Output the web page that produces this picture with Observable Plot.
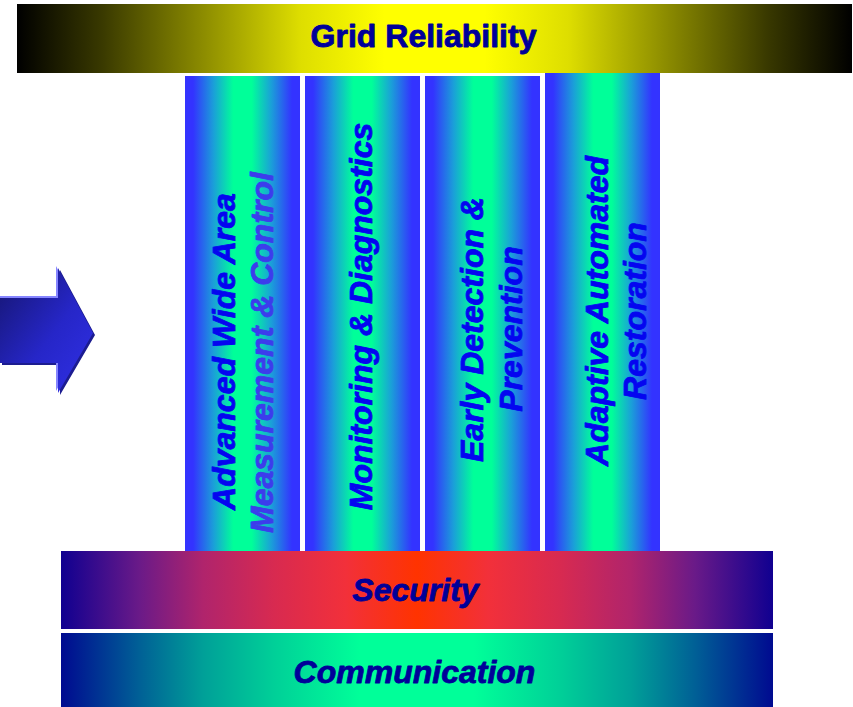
<!DOCTYPE html>
<html>
<head>
<meta charset="utf-8">
<script src="https://cdn.jsdelivr.net/npm/d3@7"></script>
<script src="https://cdn.jsdelivr.net/npm/@observablehq/plot@0.6"></script>
<style>
  html, body { margin: 0; padding: 0; background: #ffffff; }
  #chart { width: 853px; height: 707px; overflow: hidden; }
</style>
</head>
<body>
<div id="chart"></div>
<script>
// ---- Horizontal layers (top and foundation bars) ----
const layerNames = ["Grid Reliability", "Security", "Communication"];
const layerX1 = [17, 61, 61];
const layerX2 = [852, 773, 773];
const layerY1 = [4, 551, 633];
const layerY2 = [73, 629, 707];
const layerFill = ["url(#gReliab)", "url(#gSec)", "url(#gComm)"];
const layerTextX = [423, 415, 414];
const layerTextY = [36.5, 590, 672.5];

// ---- Pillars ----
const pillarNames = [
  "Advanced Wide Area Measurement & Control",
  "Monitoring & Diagnostics",
  "Early Detection & Prevention",
  "Adaptive Automated Restoration"
];
const pillarX1 = [185, 305, 425, 545];
const pillarX2 = [300, 420, 540, 660];
const pillarY1 = [76, 76, 76, 73];
const pillarY2 = [551, 551, 551, 551];

// ---- Pillar label lines (rotated text) ----
const lineTexts = [
  "Advanced Wide Area", "Measurement & Control",
  "Monitoring & Diagnostics",
  "Early Detection &", "Prevention",
  "Adaptive Automated", "Restoration"
];
const lineX = [224, 262.5, 361, 472.5, 511, 597.5, 635.5];
const lineY = [351, 352, 316, 329, 328.5, 310.5, 310.5];
const lineColor = ["#0505f0", "#3c3cec", "#0505f0", "#0505f0", "#0505f0", "#0505f0", "#0505f0"];

// ---- Arrow outline (x, top, bottom) ----
const arrowX = [0, 58, 58, 93];
const arrowTop = [298, 298, 268, 333];
const arrowBottom = [363, 363, 393, 333];

const layers = layerNames.map((name, i) => ({
  name, x1: layerX1[i], x2: layerX2[i], y1: layerY1[i], y2: layerY2[i],
  fill: layerFill[i], tx: layerTextX[i], ty: layerTextY[i]
}));
const pillars = pillarNames.map((name, i) => ({
  name, x1: pillarX1[i], x2: pillarX2[i], y1: pillarY1[i], y2: pillarY2[i]
}));
const lines = lineTexts.map((t, i) => ({ t, x: lineX[i], y: lineY[i], c: lineColor[i] }));
const arrow = arrowX.map((x, i) => ({ x, top: arrowTop[i], bottom: arrowBottom[i] }));

const font = "'Liberation Sans', Arial, Helvetica, sans-serif";

const plot = Plot.plot({
  width: 853,
  height: 707,
  margin: 0,
  style: { background: "#ffffff", overflow: "visible" },
  x: { domain: [0, 853], axis: null },
  y: { domain: [707, 0], axis: null },
  marks: [
    // arrow bevel (dark, then light) and body
    Plot.area(arrow, { x1: "x", y1: "top", y2: "bottom", fill: "#1c1c90", dx: 2, dy: 2, curve: "linear" }),
    Plot.area(arrow, { x1: "x", y1: "top", y2: "bottom", fill: "#8585ff", dx: -2, dy: -2, curve: "linear" }),
    Plot.area(arrow, { x1: "x", y1: "top", y2: "bottom", fill: "url(#gArrow)", curve: "linear" }),
    // bars
    Plot.rect(layers, { x1: "x1", x2: "x2", y1: "y1", y2: "y2", fill: (d) => d.fill }),
    // pillars
    Plot.rect(pillars, { x1: "x1", x2: "x2", y1: "y1", y2: "y2", fill: "url(#gPillar)" }),
    // layer labels
    Plot.text(layers.slice(0, 1), {
      x: "tx", y: "ty", text: "name", fill: "#000099", stroke: "#000099", strokeWidth: 0.9,
      fontSize: 32, fontWeight: "bold", fontFamily: font, ariaLabel: "title-label"
    }),
    Plot.text(layers.slice(1), {
      x: "tx", y: "ty", text: "name", fill: "#000099", stroke: "#000099", strokeWidth: 0.8,
      fontSize: 32, fontWeight: "bold", fontStyle: "italic", fontFamily: font
    }),
    // pillar labels
    Plot.text(lines, {
      x: "x", y: "y", text: "t", fill: "c", stroke: "c", strokeWidth: 0.8, rotate: -90,
      fontSize: 32, fontWeight: "bold", fontStyle: "italic", fontFamily: font
    })
  ]
});

// gradients
const svg = d3.select(plot);
const defs = svg.insert("defs", ":first-child");
function grad(id, stops, x2 = 1, y2 = 0) {
  const g = defs.append("linearGradient").attr("id", id)
    .attr("x1", 0).attr("y1", 0).attr("x2", x2).attr("y2", y2);
  stops.forEach(([o, c]) => g.append("stop").attr("offset", o).attr("stop-color", c));
}
function mirror(half) {
  const out = half.slice();
  for (let i = half.length - 2; i >= 0; i--) out.push([1 - half[i][0], half[i][1]]);
  return out;
}
grad("gReliab", mirror([[0, "#000000"], [0.1, "#383800"], [0.22, "#8a8a00"], [0.34, "#dede00"], [0.44, "#ffff00"], [0.5, "#ffff00"]]));
grad("gSec", mirror([[0, "#100090"], [0.11, "#6a1a88"], [0.2, "#b0246c"], [0.3, "#d82a50"], [0.4, "#f2303a"], [0.5, "#ff3300"]]));
grad("gComm", mirror([[0, "#000a90"], [0.11, "#006096"], [0.2, "#00a098"], [0.3, "#00d098"], [0.42, "#00ff99"], [0.5, "#00ff99"]]));
grad("gPillar", mirror([[0, "#3333ff"], [0.07, "#3333ff"], [0.25, "#1aa0d8"], [0.42, "#00ff99"], [0.5, "#00ff99"]]));
grad("gArrow", [[0, "#15156e"], [0.55, "#2626c8"], [1, "#3030e6"]], 1, 1);

// stretched title like the original
svg.selectAll("g[aria-label='title-label'] text")
  .attr("textLength", 260)
  .attr("lengthAdjust", "spacingAndGlyphs");

document.getElementById("chart").appendChild(plot);
</script>
</body>
</html>
